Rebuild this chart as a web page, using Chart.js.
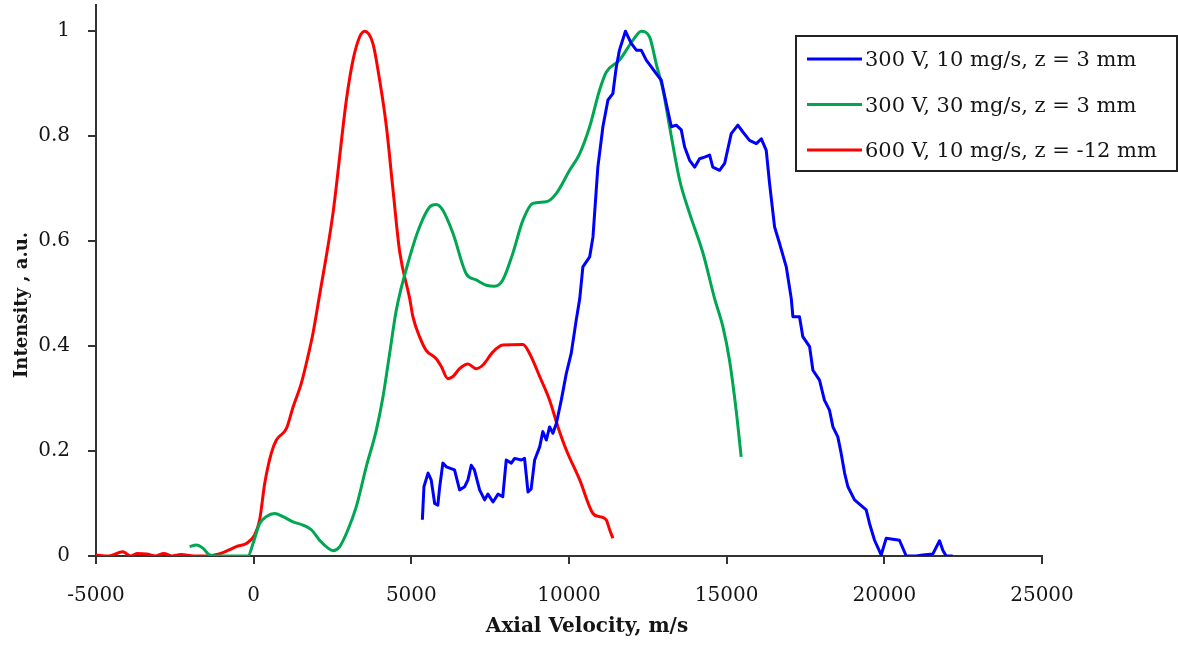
<!DOCTYPE html>
<html>
<head>
<meta charset="utf-8">
<script src="https://cdn.jsdelivr.net/npm/chart.js@4.4.1/dist/chart.umd.min.js"></script>
<style>
  html, body { margin: 0; padding: 0; background: #fff; }
  #wrap { width: 1178px; height: 646px; position: relative; }
</style>
</head>
<body>
<div id="wrap"><canvas id="velocityChart"></canvas></div>
<script>
const seriesLabels = [
  '300 V, 10 mg/s, z = 3 mm',
  '300 V, 30 mg/s, z = 3 mm',
  '600 V, 10 mg/s, z = -12 mm'
];
const xTicks = [-5000, 0, 5000, 10000, 15000, 20000, 25000];
const yTicks = [0, 0.2, 0.4, 0.6, 0.8, 1];

// 300 V, 10 mg/s
const vel300v10 = [5350, 5400, 5530, 5630, 5740, 5840, 5900, 6000, 6110, 6370, 6530, 6690, 6795, 6900, 7000,
  7165, 7325, 7430, 7590, 7750, 7900, 8010, 8170, 8275, 8490, 8590, 8700, 8800, 8910, 9070, 9170, 9280,
  9385, 9490, 9600, 9755, 9915, 10070, 10230, 10340, 10440, 10655, 10760, 10915, 11075, 11235, 11390,
  11500, 11600, 11790, 11975, 12135, 12290, 12450, 12610, 12770, 12925, 13085, 13245, 13400, 13560,
  13665, 13825, 13985, 14140, 14300, 14460, 14560, 14775, 14935, 15145, 15355, 15515, 15725, 15940,
  16100, 16255, 16360, 16520, 16680, 16890, 17050, 17100, 17310, 17415, 17630, 17735, 17945, 18100,
  18260, 18370, 18525, 18630, 18740, 18845, 19055, 19425, 19530, 19690, 19900, 20060, 20270, 20480,
  20695, 21010, 21220, 21540, 21750, 21855, 21960, 22170];
const int300v10 = [0.069, 0.132, 0.158, 0.145, 0.100, 0.097, 0.132, 0.177, 0.170, 0.164, 0.126, 0.132, 0.145, 0.173, 0.164,
  0.126, 0.107, 0.118, 0.103, 0.118, 0.113, 0.183, 0.177, 0.186, 0.183, 0.186, 0.122, 0.128, 0.183, 0.208, 0.237, 0.221,
  0.246, 0.234, 0.253, 0.297, 0.348, 0.386, 0.450, 0.490, 0.551, 0.570, 0.608, 0.741, 0.818, 0.869, 0.881,
  0.932, 0.964, 1.000, 0.977, 0.964, 0.964, 0.945, 0.932, 0.919, 0.907, 0.862, 0.818, 0.821, 0.812,
  0.780, 0.754, 0.741, 0.757, 0.760, 0.764, 0.741, 0.735, 0.748, 0.805, 0.821, 0.808, 0.792, 0.786,
  0.795, 0.773, 0.710, 0.627, 0.595, 0.551, 0.490, 0.456, 0.456, 0.418, 0.399, 0.354, 0.335, 0.297,
  0.278, 0.246, 0.227, 0.196, 0.158, 0.132, 0.107, 0.088, 0.062, 0.030, 0.002, 0.034, 0.032, 0.030,
  0.000, 0.000, 0.002, 0.004, 0.029, 0.011, 0.000, 0.000];

// 300 V, 30 mg/s
const vel300v30 = [-2030, -1820, -1610, -1395, -1000, -500, -180, -20, 190, 400, 665, 930, 1250, 1560, 1830,
  2090, 2360, 2515, 2730, 2990, 3255, 3570, 3890, 4100, 4310, 4525, 4950, 5260, 5580, 5790, 6000,
  6320, 6740, 7060, 7380, 7640, 7900, 8220, 8540, 8855, 9280, 9600, 10020, 10340, 10655, 10970, 11180,
  11600, 12030, 12290, 12555, 12770, 12980, 13190, 13510, 13825, 14250, 14620, 14880, 15090, 15300, 15460];
const int300v30 = [0.018, 0.021, 0.015, 0.002, 0.000, 0.000, 0.000, 0.024, 0.062, 0.075, 0.081, 0.075, 0.065, 0.059, 0.050,
  0.030, 0.015, 0.010, 0.018, 0.050, 0.094, 0.170, 0.240, 0.303, 0.385, 0.469, 0.570, 0.627, 0.665, 0.670, 0.659,
  0.615, 0.538, 0.526, 0.516, 0.514, 0.526, 0.577, 0.640, 0.672, 0.675, 0.691, 0.735, 0.767, 0.818, 0.888, 0.922,
  0.945, 0.983, 1.000, 0.989, 0.937, 0.888, 0.818, 0.716, 0.653, 0.577, 0.490, 0.437, 0.373, 0.278, 0.189];

// 600 V, 10 mg/s
const vel600v10 = [-5000, -4600, -4150, -3900, -3700, -3400, -3100, -2850, -2600, -2300, -1900, -1500, -1100, -800,
  -550, -230, 30, 190, 350, 560, 720, 1040, 1250, 1510, 1720, 1880, 2070, 2515, 2940, 3150, 3360, 3520, 3780,
  4000, 4210, 4420, 4630, 4950, 5050, 5260, 5470, 5790, 5950, 6160, 6320, 6530, 6795, 7060, 7270, 7590, 7900,
  8540, 8750, 9070, 9385, 9650, 9915, 10340, 10760, 10970, 11180, 11290, 11390];
const int600v10 = [0.002, 0.000, 0.008, 0.000, 0.005, 0.004, 0.000, 0.005, 0.000, 0.003, 0.000, 0.000, 0.004, 0.011,
  0.018, 0.024, 0.040, 0.069, 0.138, 0.196, 0.221, 0.243, 0.284, 0.329, 0.380, 0.424, 0.490, 0.653, 0.869, 0.945, 0.989, 1.000, 0.977,
  0.905, 0.818, 0.697, 0.580, 0.490, 0.456, 0.418, 0.392, 0.376, 0.361, 0.338, 0.342, 0.357, 0.366, 0.357, 0.364, 0.389, 0.402,
  0.403, 0.386, 0.342, 0.297, 0.246, 0.202, 0.145, 0.081, 0.075, 0.069, 0.050, 0.034];

const toPoints = (xs, ys) => xs.map((x, i) => ({ x: x, y: ys[i] }));

const serif = 'DejaVu Serif';
const inkColor = '#151515';
const axisColor = '#333333';

// axis titles and the boxed legend at the top right
const annotations = {
  id: 'annotations',
  afterDraw(chart) {
    const c = chart.ctx;
    c.save();
    c.fillStyle = inkColor;
    c.font = `bold 20px "${serif}"`;
    c.textAlign = 'center';
    c.textBaseline = 'alphabetic';
    c.fillText('Axial Velocity, m/s', 587, 632);

    c.save();
    c.translate(27, 305);
    c.rotate(-Math.PI / 2);
    c.font = `bold 18px "${serif}"`;
    c.fillText('Intensity , a.u.', 0, 0);
    c.restore();

    // legend box
    c.fillStyle = '#fff';
    c.fillRect(796, 36, 381, 135);
    c.strokeStyle = '#222';
    c.lineWidth = 2;
    c.strokeRect(796, 36, 381, 135);

    c.font = `21px "${serif}"`;
    c.textAlign = 'left';
    c.textBaseline = 'middle';
    chart.data.datasets.forEach((ds, i) => {
      const y = 59 + i * 45.5;
      c.strokeStyle = ds.borderColor;
      c.lineWidth = 3;
      c.beginPath();
      c.moveTo(807, y);
      c.lineTo(862, y);
      c.stroke();
      c.fillStyle = inkColor;
      c.fillText(ds.label, 865, y + 2);
    });
    c.restore();
  }
};

const renderChart = () => {
  const canvas = document.getElementById('velocityChart');

  new Chart(canvas, {
    type: 'scatter',
    data: {
      datasets: [{
        label: seriesLabels[0],
        data: toPoints(vel300v10, int300v10),
        borderColor: '#0000ff',
        tension: 0
      }, {
        label: seriesLabels[1],
        data: toPoints(vel300v30, int300v30),
        borderColor: '#00a651',
        cubicInterpolationMode: 'monotone'
      }, {
        label: seriesLabels[2],
        data: toPoints(vel600v10, int600v10),
        borderColor: '#ff0000',
        cubicInterpolationMode: 'monotone'
      }].map(ds => Object.assign({
        showLine: true,
        pointRadius: 0,
        borderWidth: 3,
        borderJoinStyle: 'round',
        backgroundColor: 'transparent'
      }, ds))
    },
    options: {
      responsive: true,
      maintainAspectRatio: false,
      animation: false,
      layout: {
        padding: { top: 5, right: 136, left: 0, bottom: 0 }
      },
      plugins: {
        legend: { display: false },
        tooltip: { enabled: false }
      },
      scales: {
        x: {
          type: 'linear',
          min: -5000,
          max: 25000,
          afterBuildTicks: (scale) => { scale.ticks = xTicks.map(v => ({ value: v })); },
          afterFit: (scale) => { scale.height = 90; },
          border: { display: true, color: axisColor, width: 2 },
          grid: { drawOnChartArea: false, color: axisColor, lineWidth: 2, tickLength: 8 },
          ticks: {
            autoSkip: false,
            maxRotation: 0,
            padding: 20,
            color: inkColor,
            font: { family: serif, size: 20 },
            callback: (value) => String(value)
          }
        },
        y: {
          type: 'linear',
          min: 0,
          max: 1.05,
          afterBuildTicks: (scale) => { scale.ticks = yTicks.map(v => ({ value: v })); },
          afterFit: (scale) => {
            scale.width = 96;
            scale.paddingTop = 0;
            scale.paddingBottom = 0;
          },
          border: { display: true, color: axisColor, width: 2 },
          grid: { drawOnChartArea: false, color: axisColor, lineWidth: 2, tickLength: 8 },
          ticks: {
            padding: 18,
            color: inkColor,
            font: { family: serif, size: 20 },
            callback: (value) => String(Number(value.toFixed(2)))
          }
        }
      }
    },
    plugins: [annotations]
  });
};

document.addEventListener('DOMContentLoaded', () => {
  renderChart();
});
</script>
</body>
</html>
